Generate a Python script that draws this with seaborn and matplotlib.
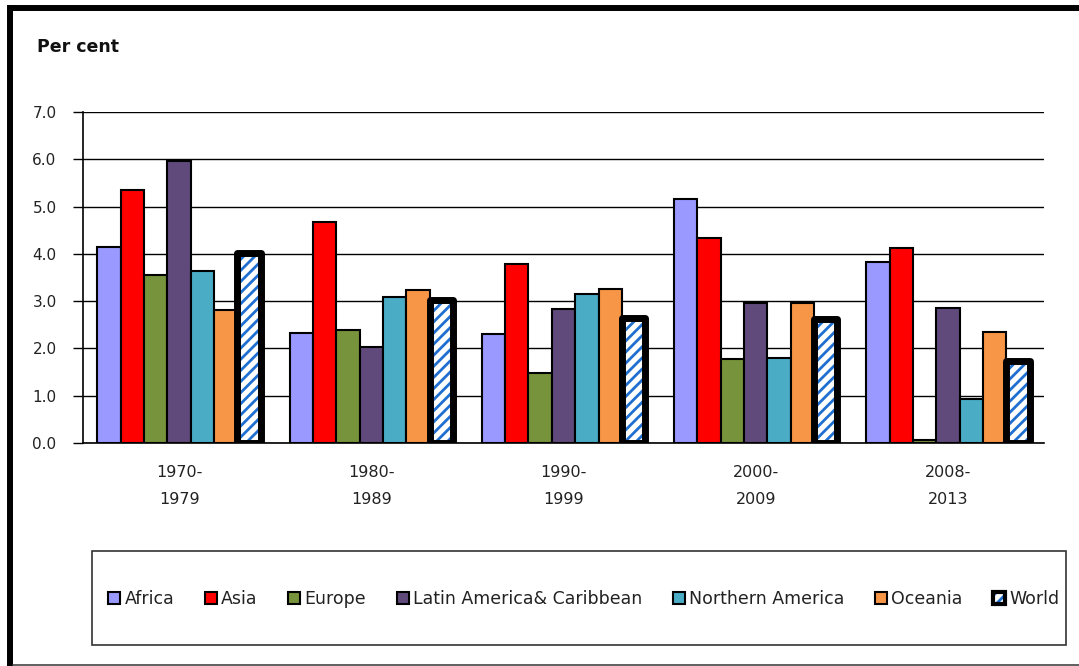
import numpy as np
import pandas as pd
import seaborn as sns
import matplotlib
matplotlib.use("Agg")
import matplotlib.pyplot as plt
from matplotlib.patches import Rectangle, Patch
from matplotlib.lines import Line2D
from matplotlib.legend_handler import HandlerTuple

periods = ["1970-\n1979", "1980-\n1989", "1990-\n1999", "2000-\n2009", "2008-\n2013"]
regions = ["Africa", "Asia", "Europe", "Latin America& Caribbean",
           "Northern America", "Oceania", "World"]
africa = [4.14, 2.32, 2.30, 5.15, 3.82]
asia = [5.35, 4.67, 3.79, 4.33, 4.12]
europe = [3.55, 2.40, 1.49, 1.77, 0.06]
latin = [5.96, 2.03, 2.83, 2.97, 2.85]
namerica = [3.64, 3.09, 3.15, 1.79, 0.92]
oceania = [2.82, 3.23, 3.25, 2.97, 2.35]
world = [4.02, 3.02, 2.65, 2.62, 1.74]
colors = ["#9999FF", "#FF0000", "#77933C", "#604A7B", "#4BACC6", "#F79646", "#FFFFFF"]
yticks = [0, 1, 2, 3, 4, 5, 6, 7]

series = [africa, asia, europe, latin, namerica, oceania, world]
rows = []
for reg, vals in zip(regions, series):
    for p, v in zip(periods, vals):
        rows.append({"period": p, "region": reg, "value": v})
df = pd.DataFrame(rows)

sns.set_theme(style="white")
plt.rcParams["font.family"] = ["DejaVu Sans"]
plt.rcParams["hatch.linewidth"] = 2.0

W, H = 1079, 666
fig = plt.figure(figsize=(W / 100, H / 100), dpi=100)
fig.patch.set_facecolor("white")
ax = fig.add_axes([83 / W, 1 - 443 / H, (1044 - 83) / W, (443 - 112) / H])

sns.barplot(data=df, x="period", y="value", hue="region", order=periods,
            hue_order=regions, palette=colors, saturation=1, width=0.85,
            edgecolor="black", linewidth=1.5, legend=False, ax=ax, zorder=3)

# World bars: blue hatch with thick black border
world_cont = ax.containers[-1]
for bar in world_cont:
    bar.set_facecolor("white")
    bar.set_edgecolor("#1F6FD0")
    bar.set_hatch("///")
    bar.set_linewidth(0)
    x, y = bar.get_xy()
    ax.add_patch(Rectangle((x, y), bar.get_width(), bar.get_height(),
                           fill=False, edgecolor="black", linewidth=5,
                           joinstyle="round", zorder=4))

ax.set_xlim(-0.5, len(periods) - 0.5)
ax.set_ylim(0, 7)
ax.set_yticks(yticks)
ax.set_yticklabels([f"{t:.1f}" for t in yticks], fontsize=11, color="#222222")
ax.set_xlabel("")
ax.set_ylabel("")
ax.tick_params(axis="y", left=True, length=7, width=1, color="black", pad=12)
ax.tick_params(axis="x", bottom=False, pad=10, labelsize=11.5, labelcolor="#222222")
for lbl in ax.get_xticklabels():
    lbl.set_linespacing(2.0)
ax.yaxis.grid(True, color="black", linewidth=1)
ax.xaxis.grid(False)
ax.set_axisbelow(True)
for s in ["top", "right"]:
    ax.spines[s].set_visible(False)
for s in ["left", "bottom"]:
    ax.spines[s].set_color("black")
    ax.spines[s].set_linewidth(1.2)

fig.text(37 / W, 1 - 47 / H, "Per cent", fontsize=12.5, fontweight="bold",
         va="center", ha="left", color="#111111")

# legend box
fig.add_artist(Rectangle((92 / W, 1 - 645 / H), (1066 - 92) / W, (645 - 551) / H,
                         transform=fig.transFigure, fill=False,
                         edgecolor="#333333", linewidth=1.2))

handles = []
for reg, c in zip(regions[:-1], colors[:-1]):
    handles.append(Patch(facecolor=c, edgecolor="black", linewidth=1.5))
handles.append((Patch(facecolor="white", edgecolor="#1F6FD0", hatch="///", linewidth=0),
                Patch(facecolor="none", edgecolor="black", linewidth=3)))
fig.legend(handles, regions, loc="center", bbox_to_anchor=(584 / W, 1 - 599 / H),
           ncol=7, frameon=False, fontsize=12.5, handlelength=0.7,
           handleheight=0.7, handletextpad=0.25, columnspacing=1.75,
           handler_map={tuple: HandlerTuple(ndivide=1)},
           labelcolor="#222222")

# outer frame
fig.add_artist(Line2D([10 / W, 1], [1 - 7.5 / H] * 2, color="black", linewidth=4.3,
                      transform=fig.transFigure, solid_capstyle="butt"))
fig.add_artist(Line2D([10 / W] * 2, [1 - 5 / H, 0], color="black", linewidth=4.3,
                      transform=fig.transFigure, solid_capstyle="butt"))
fig.add_artist(Line2D([13 / W, 1], [1 - 664.5 / H] * 2, color="#444444", linewidth=1.2,
                      transform=fig.transFigure))

fig.savefig("out.png", dpi=100, facecolor="white")
